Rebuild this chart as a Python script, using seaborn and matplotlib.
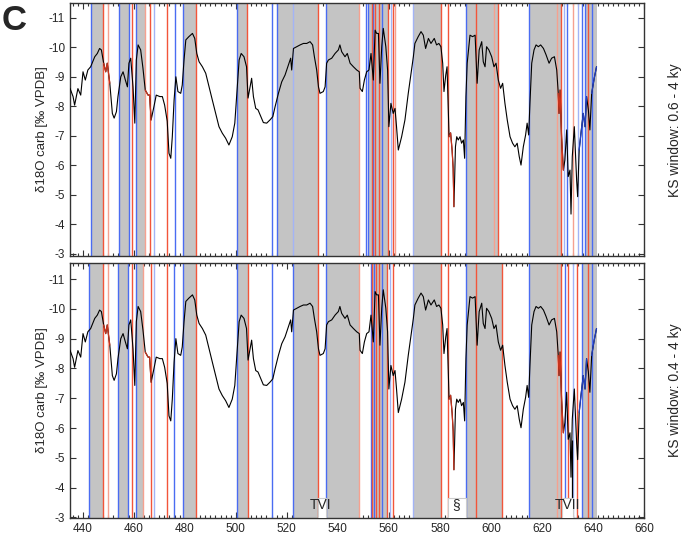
import numpy as np
import pandas as pd
import seaborn as sns
import matplotlib.pyplot as plt

# d18O record
age = [435.0, 436.2, 436.8, 438.1, 439.2, 440.1, 441.0, 442.0, 443.1, 444.7, 445.7, 446.6, 447.3,
       448.2, 449.0, 449.6, 450.6, 451.6, 452.3, 453.2, 453.8, 454.9, 455.8, 456.7, 457.5, 458.1,
       458.8, 459.7, 460.4, 461.0, 461.7, 462.7, 463.6, 464.5, 465.6, 466.2, 466.8, 467.9, 468.8,
       470.2, 471.2, 472.1, 473.1, 473.8, 474.5, 475.1, 475.8, 476.5, 477.3, 478.4, 479.0, 479.7,
       480.4, 481.6, 483.0, 483.9, 484.7, 485.6, 486.9, 488.2, 489.5, 490.8, 492.1, 493.4, 494.7,
       496.0, 497.3, 498.6, 499.6, 500.6, 501.3, 502.1, 503.2, 504.2, 504.8, 505.6, 506.2, 506.9,
       507.8, 508.7, 509.8, 510.8, 512.1, 513.4, 514.5, 515.4, 516.7, 518.0, 519.3, 520.6, 521.5,
       521.9, 522.6, 523.9, 525.2, 526.5, 527.8, 529.1, 530.1, 530.8, 531.7, 532.4, 533.0, 534.3,
       535.0, 535.6, 536.3, 537.6, 538.9, 540.2, 540.8, 541.5, 542.8, 543.7, 544.8, 546.1, 547.4,
       548.4, 548.7, 549.6, 550.4, 551.3, 552.2, 553.0, 553.9, 554.6, 555.2, 555.9, 556.5, 557.2,
       557.8, 558.8, 559.5, 560.0, 560.8, 561.7, 562.4, 563.0, 563.7, 565.0, 566.3, 567.6, 568.9,
       569.6, 570.2, 571.5, 572.6, 573.5, 574.4, 575.5, 576.5, 577.8, 578.7, 579.6, 580.4, 581.1,
       581.6, 582.3, 582.8, 583.6, 584.2, 584.8, 585.2, 585.5, 586.1, 586.6, 587.2, 587.9, 588.5,
       589.2, 589.7, 590.2, 590.7, 591.8, 592.8, 593.8, 594.6, 595.4, 596.4, 597.0, 597.7, 598.3,
       599.2, 600.3, 601.2, 602.0, 602.9, 603.8, 604.6, 605.5, 606.4, 607.5, 608.5, 609.4, 610.3,
       611.1, 611.8, 612.7, 613.6, 614.2, 614.8, 615.3, 616.0, 616.9, 617.7, 618.6, 619.5, 620.6,
       621.6, 622.8, 623.8, 624.9, 625.8, 626.4, 626.7, 627.1, 627.7, 628.4, 629.0, 629.7, 630.3,
       631.0, 631.4, 631.9, 632.7, 633.6, 634.0, 634.6, 635.3, 636.2, 636.9, 637.5, 638.2, 638.8,
       639.5, 640.5, 641.4]
d18o = [-8.61, -8.33, -8.04, -8.60, -8.38, -9.17, -8.89, -9.23, -9.34, -9.68, -9.79, -9.96, -9.91,
        -9.46, -9.17, -9.46, -8.78, -7.76, -7.60, -7.82, -8.33, -9.00, -9.17, -8.89, -8.66, -9.46,
        -9.63, -8.66, -7.43, -9.57, -10.08, -9.91, -9.29, -8.55, -8.38, -8.38, -7.54, -7.99, -8.38,
        -8.33, -8.33, -8.04, -7.50, -6.41, -6.24, -6.97, -8.21, -9.00, -8.50, -8.44, -8.72, -9.57,
        -10.25, -10.36, -10.47, -10.30, -9.79, -9.51, -9.34, -9.12, -8.66, -8.21, -7.76, -7.31, -7.09,
        -6.92, -6.69, -6.97, -7.43, -8.66, -9.57, -9.79, -9.68, -9.34, -8.28, -8.66, -8.95, -8.33,
        -7.93, -7.88, -7.65, -7.45, -7.43, -7.54, -7.65, -7.99, -8.44, -8.83, -9.06, -9.40, -9.63,
        -9.23, -9.96, -10.02, -10.08, -10.13, -10.13, -10.19, -10.08, -9.68, -9.23, -8.66, -8.44, -8.50,
        -8.66, -9.46, -9.57, -9.63, -9.79, -9.91, -10.08, -9.85, -9.68, -9.79, -9.46, -9.34, -9.23,
        -9.17, -8.61, -8.50, -8.89, -9.17, -9.23, -9.79, -8.89, -10.58, -10.47, -10.47, -8.78, -10.02,
        -10.64, -10.02, -9.23, -7.31, -8.10, -7.76, -7.93, -7.31, -6.52, -6.97, -7.54, -8.44, -9.23,
        -9.68, -10.13, -10.36, -10.53, -10.41, -9.96, -10.30, -10.13, -10.30, -10.08, -10.13, -10.02, -9.46,
        -8.50, -9.06, -9.34, -6.97, -7.10, -6.50, -5.90, -4.60, -6.63, -6.97, -6.86, -6.97, -6.75,
        -6.86, -6.24, -8.33, -9.46, -10.41, -10.36, -10.41, -8.78, -9.91, -10.19, -9.51, -9.34, -10.02,
        -9.91, -9.68, -9.34, -9.46, -8.89, -8.61, -8.78, -8.10, -7.54, -6.97, -6.75, -6.63, -6.75,
        -6.30, -6.01, -6.63, -7.03, -7.43, -7.03, -8.10, -9.46, -9.91, -10.08, -10.02, -10.08, -9.96,
        -9.75, -9.46, -9.63, -9.68, -9.23, -8.44, -7.76, -8.55, -6.97, -5.84, -6.18, -7.20, -5.62,
        -5.84, -4.35, -6.30, -7.31, -5.50, -4.94, -6.52, -7.09, -7.76, -7.31, -8.33, -7.88, -7.20,
        -8.44, -8.95, -9.34]

# curve pieces drawn in colour
red_pieces = [(447.9, 450.6), (464.3, 466.8), (583.0, 585.5), (626.4, 628.4)]
blue_pieces = [(634.6, 637.5), (639.5, 641.4)]

# KS window 0.6 - 4 ky
top_bands = [(443.4, 447.9), (454.1, 458.0), (460.7, 464.3), (479.4, 484.5), (500.6, 504.5),
             (516.3, 532.2), (535.4, 548.4), (551.9, 559.5), (569.6, 580.4), (590.1, 602.9),
             (615.0, 627.5), (636.9, 641.4)]
top_blue = [443.4, 454.1, 458.0, 460.7, 476.0, 479.4, 500.6, 514.3, 516.3, 535.4, 551.0, 551.9,
            553.8, 557.2, 590.1, 615.0, 629.8, 635.6, 636.9, 639.5]
top_blue_light = [467.9, 522.3, 560.8, 569.6, 628.8, 634.0]
top_red = [447.9, 459.4, 466.5, 473.1, 484.5, 504.5, 532.2, 553.2, 554.5, 556.1, 559.5, 561.7,
           580.4, 583.0, 594.3, 602.9, 627.5, 638.2]
top_red_light = [449.9, 464.3, 548.4, 562.4, 601.3, 625.8, 632.3]

# KS window 0.4 - 4 ky
bot_bands = [(442.4, 447.8), (454.0, 457.9), (460.7, 463.7), (479.4, 484.4), (500.5, 504.6),
             (522.3, 532.2), (535.4, 548.4), (552.8, 559.1), (569.6, 580.4), (590.1, 604.3),
             (615.0, 627.5), (635.6, 641.4)]
bot_blue = [442.4, 454.0, 457.9, 460.7, 475.9, 479.4, 500.5, 514.3, 522.3, 535.4, 552.8, 554.1,
            557.3, 590.1, 615.0, 629.0, 635.6, 639.5]
bot_blue_light = [468.0, 560.4, 569.6, 632.3]
bot_red = [447.8, 459.4, 466.6, 473.1, 484.4, 504.6, 532.2, 553.2, 554.9, 556.0, 559.1, 561.7,
           580.4, 583.0, 594.3, 604.3, 627.5, 630.3, 633.6, 638.2]
bot_red_light = [450.0, 463.7, 548.4, 625.8]
bot_black = [631.6]
bot_black_range = (-5.6, -3.45)

labels = ["TVI", "§", "TVII"]
label_boxes = [(532.2, 535.4), (583.0, 590.1), (627.7, 632.3)]
label_x = [533.1, 586.5, 630.2]

df = pd.DataFrame({"age": age, "d18o": d18o})

sns.set_style("ticks")
plt.rcParams['font.family'] = ['Liberation Sans', 'DejaVu Sans']

BLUE = "#4a6cf2"
BLUE_L = "#a3b4f6"
RED = "#f2553a"
RED_L = "#f5a190"
GRAY = "#c4c4c4"

fig = plt.figure(figsize=(6.85, 5.35), dpi=100)
ax1 = fig.add_axes([0.1022, 0.5215, 0.8379, 0.4729])
ax2 = fig.add_axes([0.1022, 0.0312, 0.8379, 0.4778])


def draw_panel(ax, bands, blue, blue_l, red, red_l):
    for a, b in bands:
        ax.axvspan(a, b, color=GRAY, lw=0, zorder=1)
    for x in blue_l:
        ax.axvline(x, color=BLUE_L, lw=1.0, zorder=2)
    for x in red_l:
        ax.axvline(x, color=RED_L, lw=1.0, zorder=2)
    for x in blue:
        ax.axvline(x, color=BLUE, lw=1.0, zorder=2)
    for x in red:
        ax.axvline(x, color=RED, lw=1.0, zorder=2)
    sns.lineplot(data=df, x="age", y="d18o", ax=ax, color="black", lw=0.8, zorder=3)
    for a, b in red_pieces:
        sub = df[(df.age >= a) & (df.age <= b)]
        sns.lineplot(data=sub, x="age", y="d18o", ax=ax, color="#c8341e", lw=0.9, zorder=4)
    for a, b in blue_pieces:
        sub = df[(df.age >= a) & (df.age <= b)]
        sns.lineplot(data=sub, x="age", y="d18o", ax=ax, color="#2340c0", lw=0.9, zorder=4)
    ax.set_xlim(435, 660)
    ax.set_xticks(np.arange(440, 661, 20))
    ax.set_xticks(np.arange(436, 661, 2), minor=True)
    ax.set_yticks(np.arange(-11, -2, 1))
    ax.set_yticklabels([str(v) for v in range(-11, -2)])
    ax.tick_params(which="both", direction="in", top=True, right=True, labelsize=8.5,
                   color="#333333", width=0.8)
    ax.tick_params(which="major", length=4)
    ax.tick_params(which="minor", length=2.5)
    for s in ax.spines.values():
        s.set_linewidth(1.0)
        s.set_color("#333333")
    ax.set_ylabel("δ18O carb [‰ VPDB]", fontsize=9.5, labelpad=0)
    ax.set_xlabel("")


draw_panel(ax1, top_bands, top_blue, top_blue_light, top_red, top_red_light)
draw_panel(ax2, bot_bands, bot_blue, bot_blue_light, bot_red, bot_red_light)
ax1.set_ylim(-2.93, -11.5)
ax2.set_ylim(-2.97, -11.55)
ax1.tick_params(labelbottom=False)

ax2.vlines(bot_black, bot_black_range[0], bot_black_range[1], color="black", lw=0.9, zorder=4)

for txt, (a, b), xc in zip(labels, label_boxes, label_x):
    ax2.axvspan(a, b, ymin=0.0, ymax=0.08, facecolor="white", edgecolor="#cccccc", lw=0.8, zorder=5)
    ax2.text(xc, -3.4, txt, ha="center", va="center", fontsize=10, zorder=6)

fig.text(0.986, 0.756, "KS window: 0.6 - 4 ky", rotation=90, ha="center", va="center", fontsize=10)
fig.text(0.986, 0.27, "KS window: 0.4 - 4 ky", rotation=90, ha="center", va="center", fontsize=10)
fig.text(0.002, 0.992, "C", fontsize=25, fontweight="bold", ha="left", va="top")

fig.savefig("out.png", dpi=100)
